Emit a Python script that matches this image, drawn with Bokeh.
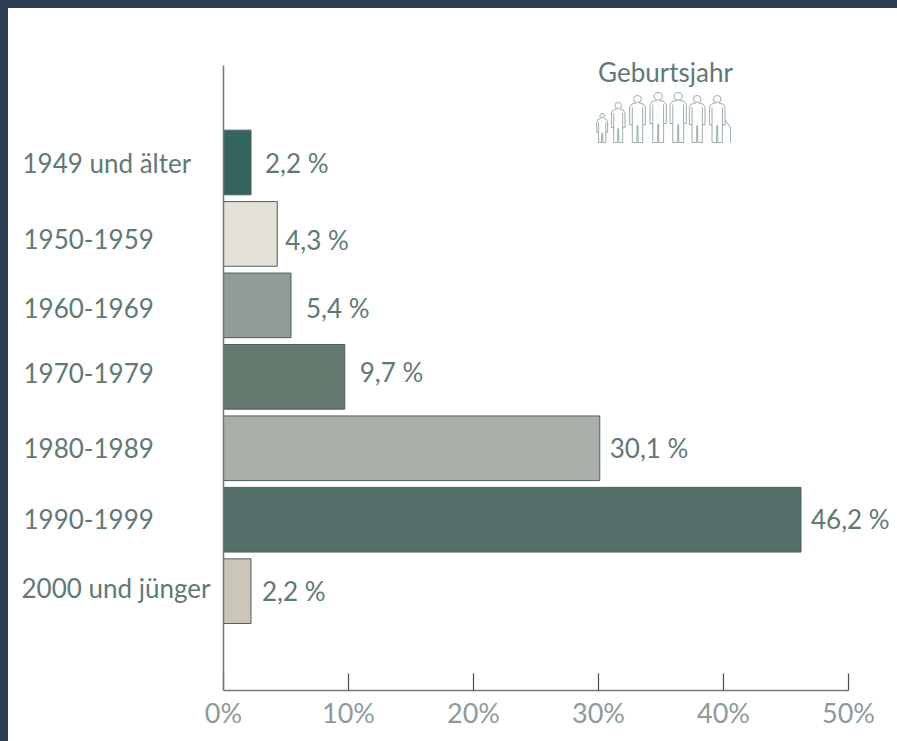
from bokeh.plotting import figure
from bokeh.models import ColumnDataSource, LabelSet, Label, Range1d, FixedTicker, LinearAxis
from bokeh.core.properties import value
from bokeh.embed import file_html
from bokeh.resources import INLINE

# ---- data ----
categories = ["1949 und älter", "1950-1959", "1960-1969", "1970-1979",
              "1980-1989", "1990-1999", "2000 und jünger"]
values = [2.2, 4.3, 5.4, 9.7, 30.1, 46.2, 2.2]
value_labels = ["2,2 %", "4,3 %", "5,4 %", "9,7 %", "30,1 %", "46,2 %", "2,2 %"]
x_ticks = [0, 10, 20, 30, 40, 50]
x_tick_labels = ["0%", "10%", "20%", "30%", "40%", "50%"]

# ---- style / layout ----
bar_colors = ["#33645d", "#e5e1d6", "#8f9d96", "#66796f", "#a9aea8", "#546f69", "#cbc7b8"]
positions = [0, 1, 2, 3, 4, 5, 6]
cat_dx = [-201, -200, -200, -200, -200, -200, -202]
cat_dy = [-1, -5, -3, 4, 0, 1, 3]
val_dx = [14, 8, 15, 15, 10, 10, 11]
val_dy = [-1, -6, -3, 5, 0, 1, 0]
FONT = "Lato"
TEXT = "#5f7976"
TICK_TEXT = "#8b9b99"
AXIS = "#6d7b79"
FS = "26px"

p = figure(width=889, height=733, output_backend="svg", toolbar_location=None,
           x_range=Range1d(-17.2, 53.92), y_range=Range1d(7.39, -2.155),
           min_border_left=0, min_border_right=0, min_border_top=0, min_border_bottom=51,
           x_axis_location=None, y_axis_location=None,
           background_fill_color="white", border_fill_color="white",
           styles={"background-color": "white"})
p.outline_line_color = None
p.grid.visible = False
p.extra_x_ranges["px"] = Range1d(8, 897)
p.extra_y_ranges["py"] = Range1d(690, 8)

xax = LinearAxis(ticker=FixedTicker(ticks=x_ticks),
                 major_label_overrides={t: l for t, l in zip(x_ticks, x_tick_labels)},
                 bounds=(0, 50), major_tick_in=17, major_tick_out=0, minor_tick_line_color=None,
                 axis_line_color=AXIS, axis_line_width=1.5,
                 major_tick_line_color="#41524f", major_tick_line_width=1.2,
                 major_label_text_font=FONT, major_label_text_font_size="27px",
                 major_label_text_color=TICK_TEXT, major_label_standoff=5)
p.add_layout(xax, "below")
yax = LinearAxis(fixed_location=0, bounds=(-1.357, 7.39), ticker=FixedTicker(ticks=[]),
                 major_tick_line_color=None, minor_tick_line_color=None,
                 axis_line_color=AXIS, axis_line_width=1.5)
p.add_layout(yax, "left")

src = ColumnDataSource(dict(y=positions, v=values, c=bar_colors, lab=value_labels, cat=categories,
                            zero=[0] * 7, cdx=cat_dx, cdy=cat_dy, vdx=val_dx, vdy=val_dy))
p.hbar(y="y", left=0, right="v", height=0.905, fill_color="c", line_color="#4a625e", line_width=1.0, source=src)

p.add_layout(LabelSet(x="zero", y="y", text="cat", x_offset="cdx", y_offset="cdy", source=src,
                      text_font=value(FONT), text_font_size=value(FS), text_color=TEXT,
                      text_align="left", text_baseline="middle"))
p.add_layout(LabelSet(x="v", y="y", text="lab", x_offset="vdx", y_offset="vdy", source=src,
                      text_font=value(FONT), text_font_size=value(FS), text_color=TEXT,
                      text_align="left", text_baseline="middle"))
p.add_layout(Label(x=665, y=71, x_range_name="px", y_range_name="py", text="Geburtsjahr",
                   text_font=FONT, text_font_size="26px", text_color=TEXT,
                   text_align="center", text_baseline="middle"))

# pictogram of seven people (decoration, in pixel space)
people = [(601.7, 113, 0.8), (617.7, 102, 1.0), (637, 95, 1.15), (657.7, 92, 1.2),
          (677.7, 92, 1.2), (696.7, 95, 1.15), (716.7, 95, 1.15)]
xs, ys, hx, hy, hs = [], [], [], [], []
for cx, top, s in people:
    h = 142 - top
    head = 0.15 * h
    sh = 6.8 * s
    leg = 4.5 * s
    waist = top + 0.58 * h
    shoulder = top + head + 0.5
    xs.append([cx - 1.5, cx - leg - 0.6, cx - sh, cx - sh, cx - leg, cx - leg, cx - 0.6, cx - 0.4, cx + 0.4,
               cx + 0.6, cx + leg, cx + leg, cx + sh, cx + sh, cx + leg + 0.6, cx + 1.5])
    ys.append([shoulder, shoulder + 1, shoulder + 4, waist + 2, waist + 2, 142, 142, waist + 3, waist + 3,
               142, 142, waist + 2, waist + 2, shoulder + 4, shoulder + 1, shoulder])
    xs.append([cx - leg, cx - leg]); ys.append([shoulder + 4, waist + 2])
    xs.append([cx + leg, cx + leg]); ys.append([shoulder + 4, waist + 2])
    hx.append(cx); hy.append(top + head / 2); hs.append(head)
xs.append([725, 730, 730]); ys.append([120, 127, 142])
p.multi_line(xs, ys, x_range_name="px", y_range_name="py", line_color="#6f8583", line_width=0.8, line_alpha=0.85)
p.ellipse(hx, hy, width=[v * 1.1 for v in hs], height=hs, x_range_name="px", y_range_name="py",
          fill_color=None, line_color="#6f8583", line_width=0.8, line_alpha=0.85)

html = file_html(p, INLINE)
html = html.replace("</head>", "<style>html,body{background:#2c3e52;overflow:hidden}body{margin:0!important;padding:8px 0 0 8px!important}</style></head>", 1)
open("out.html", "w").write(html)
